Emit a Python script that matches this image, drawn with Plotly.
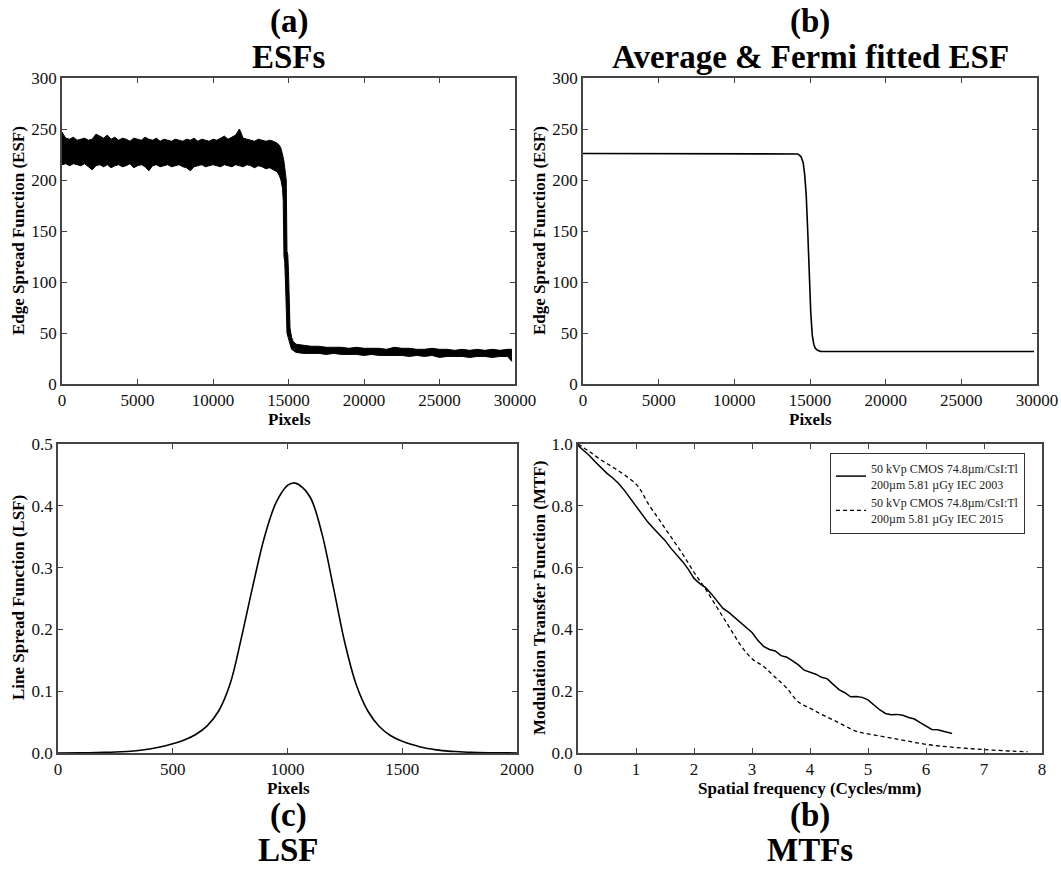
import plotly.graph_objects as go

W, H = 1061, 871

# ---------------- (a) ESFs: noisy band envelope ----------------
esf_x = [0, 250, 500, 750, 1000, 1250, 1500, 1750, 2000, 2250, 2500, 2750, 3000, 3250,
         3500, 3750, 4000, 4250, 4500, 4750, 5000, 5250, 5500, 5750, 6000, 6250, 6500,
         6750, 7000, 7250, 7500, 7750, 8000, 8250, 8500, 8750, 9000, 9250, 9500, 9750,
         10000, 10250, 10500, 10750, 11000, 11250, 11500, 11750, 12000, 12250, 12500,
         12750, 13000, 13250, 13500, 13750, 14000, 14250,
         14400, 14500, 14600, 14650, 14700, 14750, 14800, 14850, 14900, 14950, 15000,
         15050, 15100, 15200, 15300, 15500,
         16000, 16500, 17000, 17500, 18000, 18500, 19000, 19500, 20000, 20500, 21000,
         21500, 22000, 22500, 23000, 23500, 24000, 24500, 25000, 25500, 26000, 26500,
         27000, 27500, 28000, 28500, 29000, 29500, 29800]
esf_upper = [247, 241, 240, 242, 239, 240, 241, 239, 240, 245, 243, 241, 244, 240,
             242, 239, 241, 240, 238, 241, 240, 239, 242, 240, 239, 241, 238,
             240, 239, 238, 240, 239, 238, 240, 239, 241, 238, 240, 239, 238,
             240, 239, 241, 243, 240, 242, 244, 250, 241, 240, 239,
             238, 240, 239, 238, 239, 238, 236,
             234, 231, 226, 222, 218, 210, 202, 200, 130, 127, 110,
             62, 55, 46, 42, 39,
             38, 37, 37, 36, 36, 36, 35, 36, 35, 35, 35,
             34, 36, 35, 35, 34, 34, 35, 34, 34, 33, 34,
             33, 34, 33, 34, 33, 34, 34]
esf_lower = [215, 216, 214, 216, 215, 214, 216, 213, 210, 214, 215, 213, 215, 212,
             214, 215, 213, 214, 216, 212, 214, 215, 213, 209, 214, 215, 213,
             214, 215, 213, 214, 215, 213, 212, 209, 213, 214, 215, 213, 214,
             215, 214, 213, 215, 214, 213, 215, 214, 213, 215, 214,
             212, 214, 213, 211, 212, 210, 208,
             204, 200, 192, 180, 125, 120, 100, 60, 50, 47, 44,
             40, 37, 34, 33, 31,
             30, 30, 30, 29, 30, 29, 29, 29, 28, 29, 28,
             28, 28, 28, 27, 28, 27, 28, 26, 27, 27, 27,
             26, 27, 27, 26, 27, 27, 22]

# ---------------- (b) Average & Fermi fitted ESF ----------------
fermi_x = [0, 14000, 14200, 14400, 14550, 14650, 14750, 14850, 14950, 15050, 15150,
           15250, 15350, 15500, 15700, 16000, 29800]
fermi_y = [226, 226, 225.5, 223, 217, 205, 185, 150, 105, 70, 48,
           39, 35, 33, 32, 31.8, 31.8]

# ---------------- (c) LSF ----------------
lsf_x = [0, 100, 200, 250, 300, 350, 400, 450, 500, 550, 600, 650, 700, 750, 800, 850,
         900, 950, 1000, 1025, 1050, 1100, 1150, 1200, 1250, 1300, 1350, 1400, 1450,
         1500, 1550, 1600, 1650, 1700, 1750, 1800, 1900, 2000]
lsf_y = [0.0001, 0.0003, 0.001, 0.0015, 0.0025, 0.004, 0.0065, 0.010, 0.015, 0.021,
         0.030, 0.044, 0.068, 0.112, 0.188, 0.272, 0.350, 0.405, 0.433, 0.437, 0.434,
         0.413, 0.355, 0.268, 0.178, 0.110, 0.068, 0.043, 0.028, 0.019, 0.013, 0.008,
         0.005, 0.003, 0.002, 0.001, 0.0004, 0.0001]

# ---------------- (d) MTFs ----------------
mtf03_x = [0.0, 0.1, 0.2, 0.3, 0.4, 0.5, 0.6, 0.7, 0.8, 0.9, 1.0, 1.1, 1.2, 1.3, 1.4,
           1.5, 1.6, 1.7, 1.8, 1.9, 2.0, 2.1, 2.2, 2.3, 2.4, 2.5, 2.6, 2.7, 2.8, 2.9,
           3.0, 3.1, 3.2, 3.3, 3.4, 3.5, 3.6, 3.7, 3.8, 3.9, 4.0, 4.1, 4.2, 4.3, 4.4,
           4.5, 4.6, 4.7, 4.8, 4.9, 5.0, 5.1, 5.2, 5.3, 5.4, 5.5, 5.6, 5.7, 5.8, 5.9,
           6.0, 6.1, 6.2, 6.3, 6.4, 6.45]
mtf03_y = [0.995, 0.98, 0.962, 0.942, 0.922, 0.905, 0.89, 0.872, 0.85, 0.825, 0.80,
           0.772, 0.748, 0.727, 0.708, 0.688, 0.663, 0.642, 0.62, 0.595, 0.565, 0.548,
           0.535, 0.515, 0.49, 0.468, 0.455, 0.438, 0.422, 0.405, 0.39, 0.365, 0.345,
           0.335, 0.33, 0.315, 0.31, 0.298, 0.285, 0.268, 0.262, 0.255, 0.245, 0.24,
           0.222, 0.205, 0.195, 0.182, 0.183, 0.18, 0.172, 0.155, 0.14, 0.128, 0.124,
           0.125, 0.122, 0.115, 0.11, 0.098, 0.088, 0.076, 0.075, 0.07, 0.066, 0.063]
mtf15_x = [0.0, 0.2, 0.4, 0.6, 0.8, 1.0, 1.1, 1.2, 1.4, 1.6, 1.8, 2.0, 2.2, 2.4, 2.6,
           2.8, 3.0, 3.2, 3.4, 3.6, 3.8, 4.0, 4.2, 4.4, 4.6, 4.8, 5.0, 5.5, 6.0, 6.5,
           7.0, 7.5, 7.75]
mtf15_y = [1.0, 0.975, 0.948, 0.925, 0.9, 0.87, 0.845, 0.81, 0.755, 0.7, 0.645, 0.585,
           0.53, 0.47, 0.41, 0.35, 0.305, 0.28, 0.245, 0.21, 0.165, 0.145, 0.125, 0.107,
           0.088, 0.07, 0.062, 0.045, 0.028, 0.018, 0.011, 0.006, 0.004]

legend_names = ["50 kVp CMOS 74.8µm/CsI:Tl<br>200µm 5.81 µGy IEC 2003",
                "50 kVp CMOS 74.8µm/CsI:Tl<br>200µm 5.81 µGy IEC 2015"]

FONT = "Liberation Serif"

# panel pixel boxes (left, right, top, bottom)
boxes = {
    1: (62, 515, 78, 384),
    2: (583, 1037, 78, 384),
    3: (58, 517, 444, 753),
    4: (578, 1042, 444, 753),
}

fig = go.Figure()

# (a)
fig.add_trace(go.Scatter(x=esf_x, y=esf_lower, mode="lines", line=dict(color="black", width=1),
                         showlegend=False, xaxis="x", yaxis="y"))
fig.add_trace(go.Scatter(x=esf_x, y=esf_upper, mode="lines", line=dict(color="black", width=1),
                         fill="tonexty", fillcolor="black", showlegend=False, xaxis="x", yaxis="y"))
# (b)
fig.add_trace(go.Scatter(x=fermi_x, y=fermi_y, mode="lines", line=dict(color="black", width=1.6),
                         showlegend=False, xaxis="x2", yaxis="y2"))
# (c)
fig.add_trace(go.Scatter(x=lsf_x, y=lsf_y, mode="lines", line=dict(color="black", width=1.6, shape="spline"),
                         showlegend=False, xaxis="x3", yaxis="y3"))
# (d)
fig.add_trace(go.Scatter(x=mtf03_x, y=mtf03_y, mode="lines", name=legend_names[0],
                         line=dict(color="black", width=1.5), xaxis="x4", yaxis="y4"))
fig.add_trace(go.Scatter(x=mtf15_x, y=mtf15_y, mode="lines", name=legend_names[1],
                         line=dict(color="black", width=1.3, dash="4px,3px", shape="spline"),
                         xaxis="x4", yaxis="y4"))

def ax_common():
    return dict(showline=True, linecolor="#444", linewidth=1.5, mirror="ticks",
                ticks="inside", ticklen=5, tickcolor="#444", tickwidth=1,
                showgrid=False, zeroline=False, automargin=False,
                tickfont=dict(family=FONT, size=17, color="#111"))

xr = {1: [0, 30000], 2: [0, 30000], 3: [0, 2000], 4: [0, 8]}
xd = {1: 5000, 2: 5000, 3: 500, 4: 1}
yr = {1: [0, 300], 2: [0, 300], 3: [0, 0.5], 4: [0, 1.0]}
yd = {1: 50, 2: 50, 3: 0.1, 4: 0.2}
yfmt = {1: "d", 2: "d", 3: ".1f", 4: ".1f"}

layout = dict(template="none", width=W, height=H, autosize=False,
              margin=dict(l=0, r=0, t=0, b=0, pad=0),
              paper_bgcolor="white", plot_bgcolor="white",
              font=dict(family=FONT, color="black"))
for i in range(1, 5):
    l, r, t, b = boxes[i]
    sx = "" if i == 1 else str(i)
    xa = ax_common()
    xa.update(domain=[l / W, r / W], range=xr[i], dtick=xd[i], tick0=0,
              tickformat="d", anchor="y" + sx)
    ya = ax_common()
    ya.update(domain=[1 - b / H, 1 - t / H], range=yr[i], dtick=yd[i], tick0=0,
              tickformat=yfmt[i], anchor="x" + sx)
    layout["xaxis" + sx] = xa
    layout["yaxis" + sx] = ya

fig.update_layout(**layout)

ann = []
def add_text(txt, px, py, size, angle=0):
    ann.append(dict(text=txt, x=px / W, y=1 - py / H, xref="paper", yref="paper",
                    showarrow=False, xanchor="center", yanchor="middle", textangle=angle,
                    font=dict(family=FONT, size=size, color="black")))

TS = 33
# panel titles
add_text("<b>(a)</b>", 289, 22, TS)
add_text("<b>ESFs</b>", 289, 57, TS)
add_text("<b>(b)</b>", 810, 22, TS)
add_text("<b>Average &amp; Fermi fitted ESF</b>", 810, 57, TS)
add_text("<b>(c)</b>", 288, 815, TS)
add_text("<b>LSF</b>", 288, 850, TS)
add_text("<b>(b)</b>", 810, 815, TS)
add_text("<b>MTFs</b>", 810, 850, TS)

AS = 17
# axis titles
add_text("<b>Pixels</b>", 289, 420, AS)
add_text("<b>Pixels</b>", 810, 420, AS)
add_text("<b>Pixels</b>", 288, 788, AS)
add_text("<b>Spatial frequency (Cycles/mm)</b>", 810, 788, AS)
add_text("<b>Edge Spread Function (ESF)</b>", 18, 231, AS, -90)
add_text("<b>Edge Spread Function (ESF)</b>", 539, 231, AS, -90)
add_text("<b>Line Spread Function (LSF)</b>", 18, 598, AS, -90)
add_text("<b>Modulation Transfer Function (MTF)</b>", 539, 598, AS, -90)

fig.update_layout(annotations=ann,
                  legend=dict(x=830 / W, y=1 - 453 / H, xanchor="left", yanchor="top",
                              bordercolor="#333", borderwidth=1, bgcolor="white",
                              traceorder="normal",
                              font=dict(family=FONT, size=12, color="#222"),
                              itemwidth=30, tracegroupgap=0))

fig.write_html("out.html", config={"displayModeBar": False},
               post_script="document.body.style.margin='0';")
